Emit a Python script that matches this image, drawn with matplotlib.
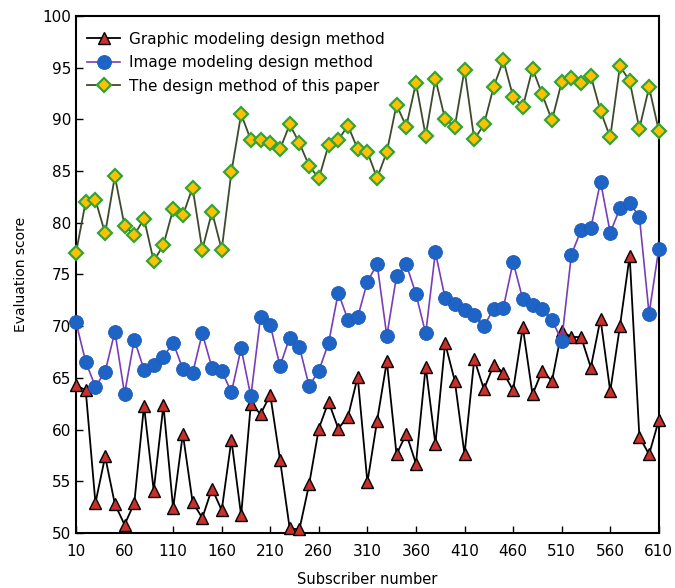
import numpy as np
import matplotlib
matplotlib.use('Agg')
import matplotlib.pyplot as plt

subscribers = list(range(10, 611, 10))

graphic_scores = [64.3, 63.8, 52.9, 57.4, 52.8, 50.8, 52.9, 62.3, 54.1, 62.35,
                  52.4, 59.6, 53.0, 51.45, 54.3, 52.2, 59.0, 51.7, 62.5, 61.5,
                  63.35, 57.1, 50.45, 50.35, 54.7, 60.1, 62.7, 60.1, 61.25, 65.1,
                  54.9, 60.86, 66.6, 57.6, 59.6, 56.7, 66.1, 58.6, 68.35, 64.7,
                  57.6, 66.8, 63.9, 66.25, 65.5, 63.8, 69.9, 63.4, 65.7, 64.7,
                  69.5, 68.95, 68.95, 66.0, 70.7, 63.7, 70.0, 76.8, 59.3, 57.6,
                  60.9]

image_scores = [70.38, 66.54, 64.15, 65.6, 69.47, 63.47, 68.7, 65.8, 66.2, 67.05,
                68.4, 65.86, 65.44, 69.3, 65.98, 65.7, 63.6, 67.86, 63.2, 70.9,
                70.1, 66.15, 68.9, 68.0, 64.2, 65.7, 68.35, 73.24, 70.6, 70.86,
                74.3, 76.0, 69.05, 74.85, 76.0, 73.1, 69.3, 77.15, 72.7, 72.15,
                71.6, 71.05, 70.0, 71.7, 71.8, 76.2, 72.6, 72.05, 71.7, 70.6,
                68.6, 76.9, 79.3, 79.47, 83.97, 79.04, 81.4, 81.9, 80.6, 71.2,
                77.5]

paper_scores = [77.1, 82.04, 82.2, 78.98, 84.5, 79.7, 78.8, 80.4, 76.3, 77.85,
                81.3, 80.7, 83.4, 77.4, 81.05, 77.4, 84.9, 90.5, 88.0, 88.0,
                87.7, 87.1, 89.5, 87.7, 85.5, 84.3, 87.5, 88.0, 89.4, 87.1,
                86.85, 84.3, 86.85, 91.4, 89.3, 93.5, 88.4, 93.9, 90.0, 89.3,
                94.8, 88.05, 89.5, 93.15, 95.7, 92.2, 91.2, 94.9, 92.4, 89.9,
                93.6, 93.96, 93.5, 94.2, 90.8, 88.25, 95.15, 93.7, 89.1, 93.1,
                88.9]

labels = ['Graphic modeling design method',
          'Image modeling design method',
          'The design method of this paper']

plt.rcParams['font.family'] = ['DejaVu Sans']

fig = plt.figure(figsize=(6.75, 5.88), dpi=100)
ax = fig.add_axes([0.1126, 0.0935, 0.8634, 0.8795])

ax.plot(subscribers, graphic_scores, color='black', linewidth=1.3,
        marker='^', markersize=9, markerfacecolor='#C8302C',
        markeredgecolor='black', markeredgewidth=1.0, label=labels[0],
        clip_on=False, zorder=3)
ax.plot(subscribers, image_scores, color='#7A3DB8', linewidth=1.2,
        marker='o', markersize=10, markerfacecolor='#1E63C6',
        markeredgecolor='#1E5BB8', markeredgewidth=0.6, label=labels[1],
        clip_on=False, zorder=3)
ax.plot(subscribers, paper_scores, color='#3E4A2C', linewidth=1.3,
        marker='D', markersize=7.5, markerfacecolor='#FFC000',
        markeredgecolor='#34A434', markeredgewidth=1.6, label=labels[2],
        clip_on=False, zorder=3)

ax.set_xlim(10, 610)
ax.set_ylim(50, 100)
ax.set_xticks(range(10, 611, 50))
ax.set_yticks(range(50, 101, 5))
ax.tick_params(direction='in', length=5, width=1, labelsize=11)
ax.tick_params(axis='x', pad=8)
for s in ax.spines.values():
    s.set_linewidth(1.5)

ax.set_xlabel('Subscriber number', fontsize=10.5, labelpad=9)
ax.set_ylabel('Evaluation score', fontsize=10, labelpad=10)

ax.legend(loc='upper left', frameon=False, fontsize=11, handlelength=2.2,
          borderaxespad=0.3, labelspacing=0.55, handletextpad=0.6,
          bbox_to_anchor=(0.0, 0.99))

fig.savefig('out.png', dpi=100)
